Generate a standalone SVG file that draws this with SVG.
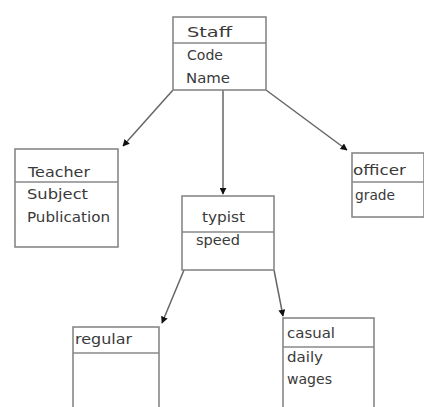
<svg xmlns="http://www.w3.org/2000/svg" width="424" height="407" viewBox="0 0 424 407">
<style>
.box{fill:#fff;stroke:#888;stroke-width:1.6}
.div{stroke:#888;stroke-width:1.6}
.t{font-family:"DejaVu Sans",sans-serif;font-size:13.5px;fill:#3a3a3a}
.c{stroke:#666;stroke-width:1.5;fill:none}
</style>
<defs>
<marker id="ah" viewBox="0 0 10 10" refX="9" refY="5" markerWidth="7" markerHeight="7" markerUnits="userSpaceOnUse" orient="auto">
<path d="M0,0 L10,5 L0,10 z" fill="#111"/>
</marker>
</defs>
<rect width="424" height="407" fill="#fff"/>
<g id="connectors">
<line class="c" x1="173" y1="90" x2="123" y2="146" marker-end="url(#ah)"/>
<line class="c" x1="223" y1="90" x2="223" y2="194" marker-end="url(#ah)"/>
<line class="c" x1="266" y1="90" x2="347" y2="150" marker-end="url(#ah)"/>
<line class="c" x1="184" y1="270" x2="162" y2="323" marker-end="url(#ah)"/>
<line class="c" x1="274" y1="270" x2="283" y2="316" marker-end="url(#ah)"/>
</g>
<g id="staff">
<rect class="box" x="173" y="17" width="93" height="73"/>
<line class="div" x1="173" y1="43" x2="266" y2="43"/>
<text class="t" x="187" y="37" textLength="45" lengthAdjust="spacingAndGlyphs">Staff</text>
<text class="t" x="187" y="60" textLength="36" lengthAdjust="spacingAndGlyphs">Code</text>
<text class="t" x="186" y="83" textLength="44" lengthAdjust="spacingAndGlyphs">Name</text>
</g>
<g id="teacher">
<rect class="box" x="15" y="149" width="103" height="98"/>
<line class="div" x1="15" y1="182" x2="118" y2="182"/>
<text class="t" x="28" y="177" textLength="62" lengthAdjust="spacingAndGlyphs">Teacher</text>
<text class="t" x="27" y="199" textLength="61" lengthAdjust="spacingAndGlyphs">Subject</text>
<text class="t" x="27" y="222" textLength="83" lengthAdjust="spacingAndGlyphs">Publication</text>
</g>
<g id="typist">
<rect class="box" x="182" y="196" width="92" height="74"/>
<line class="div" x1="182" y1="232" x2="274" y2="232"/>
<text class="t" x="202" y="222" textLength="43" lengthAdjust="spacingAndGlyphs">typist</text>
<text class="t" x="196" y="245" textLength="44" lengthAdjust="spacingAndGlyphs">speed</text>
</g>
<g id="officer">
<rect class="box" x="352" y="153" width="72" height="64"/>
<line class="div" x1="352" y1="182" x2="424" y2="182"/>
<text class="t" x="353" y="175" textLength="53" lengthAdjust="spacingAndGlyphs">officer</text>
<text class="t" x="355" y="200" textLength="40" lengthAdjust="spacingAndGlyphs">grade</text>
</g>
<g id="regular">
<rect class="box" x="73" y="327" width="86" height="90"/>
<line class="div" x1="73" y1="353" x2="159" y2="353"/>
<text class="t" x="75" y="344" textLength="57" lengthAdjust="spacingAndGlyphs">regular</text>
</g>
<g id="casual">
<rect class="box" x="283" y="318" width="91" height="99"/>
<line class="div" x1="283" y1="347" x2="374" y2="347"/>
<text class="t" x="287" y="338" textLength="48" lengthAdjust="spacingAndGlyphs">casual</text>
<text class="t" x="287" y="362" textLength="36" lengthAdjust="spacingAndGlyphs">daily</text>
<text class="t" x="287" y="384" textLength="45" lengthAdjust="spacingAndGlyphs">wages</text>
</g>
</svg>
